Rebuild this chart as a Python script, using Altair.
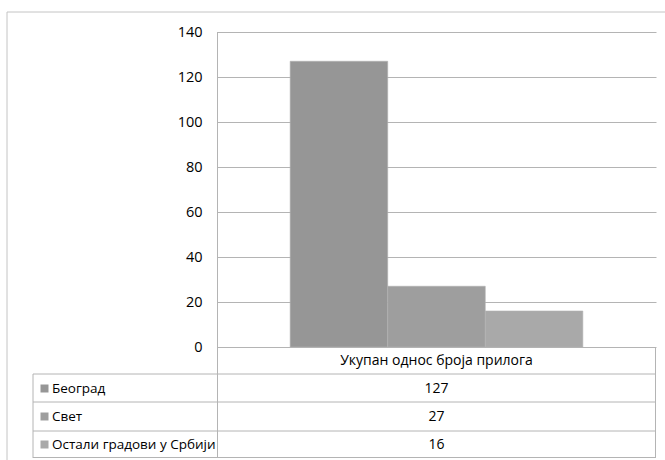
import altair as alt
import pandas as pd

# ---- data ----
categories = ["Укупан однос броја прилога"]
series = ["Београд", "Свет", "Остали градови у Србији"]
values = [127, 27, 16]
colors = ["#969696", "#9e9e9e", "#a9a9a9"]
y_ticks = [0, 20, 40, 60, 80, 100, 120, 140]

FONT = "Open Sans"
FS = 13.5
GRID = "#b4b4b4"
TXT = "#000"

W, H = 439, 426        # view: plot + data table
PLOT_H = 315           # bar area height inside the view

bars_df = pd.DataFrame({"group": categories[0], "series": series, "value": values})
rows = ["header"] + series
table_df = pd.DataFrame({
    "row": rows,
    "group": categories[0],
    "label": [""] + series,
    "cell": [categories[0]] + [str(v) for v in values],
})

xscale = alt.Scale(domain=categories, paddingInner=0, paddingOuter=0.25)
cscale = alt.Scale(domain=series, range=colors)
row_scale = alt.Scale(type="point", domain=rows, range=[328.5, 412.5], padding=0)

bars = alt.Chart(bars_df).mark_bar(stroke="#b2b2b2", strokeWidth=0.6).encode(
    x=alt.X("group:N", scale=xscale, axis=None),
    xOffset=alt.XOffset("series:N", scale=alt.Scale(domain=series, paddingInner=0, paddingOuter=0)),
    y=alt.Y("value:Q",
            scale=alt.Scale(domain=[0, 140], range=[PLOT_H, 0], nice=False, zero=True),
            axis=alt.Axis(values=y_ticks, grid=True, gridColor=GRID, gridWidth=1,
                          ticks=False, domain=False, labelPadding=15,
                          labelFont=FONT, labelFontSize=14.5, labelColor=TXT,
                          title=None)),
    color=alt.Color("series:N", scale=cscale, legend=None),
)

cells = alt.Chart(table_df).mark_text(font=FONT, fontSize=14, color=TXT,
                                      baseline="middle", align="center").encode(
    x=alt.X("group:N", scale=xscale, axis=None),
    y=alt.Y("row:N", scale=row_scale, axis=None),
    text="cell:N",
)

labels = alt.Chart(table_df[table_df["label"] != ""]).mark_text(
    font=FONT, fontSize=FS, color=TXT, baseline="middle", align="left").encode(
    x=alt.value(-165),
    y=alt.Y("row:N", scale=row_scale, axis=None),
    text="label:N",
)

swatches = alt.Chart(bars_df).mark_square(size=64, opacity=1).encode(
    x=alt.value(-172.5),
    y=alt.Y("series:N", scale=row_scale, axis=None),
    color=alt.Color("series:N", scale=cscale, legend=None),
)

def hline(y, x1, x2, color=GRID):
    return alt.Chart().mark_rule(color=color, strokeWidth=1).encode(
        x=alt.value(x1), x2=alt.value(x2), y=alt.value(y))

def vline(x, y1, y2, color=GRID):
    return alt.Chart().mark_rule(color=color, strokeWidth=1).encode(
        x=alt.value(x), y=alt.value(y1), y2=alt.value(y2))

lines = [
    vline(0.5, 0, H),            # value axis line through the table
    hline(342, -184, W),
    hline(370, -184, W),
    hline(399, -184, W),
    hline(425.5, -184, W),
    vline(-184, 342, H),
    vline(W - 0.5, PLOT_H, H),
    hline(-20, -210, 460, "#c4c4c4"),   # outer frame
    vline(-210, -20, 440, "#c4c4c4"),
]

chart = alt.layer(bars, cells, labels, swatches, *lines).resolve_scale(
    y="independent"
).properties(
    width=W, height=H,
    autosize=alt.AutoSizeParams(type="none"),
    padding={"left": 217, "top": 32, "right": 9, "bottom": 2},
    background="white",
).configure_view(stroke=None)

chart.save("out.html", embed_options={"renderer": "svg", "actions": False})
